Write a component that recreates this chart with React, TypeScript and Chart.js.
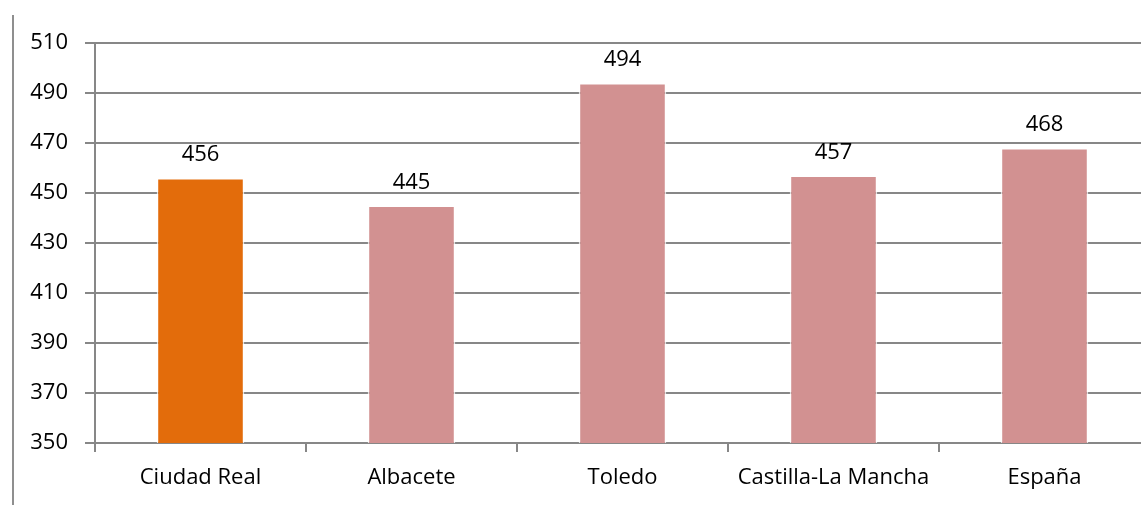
import React, { useEffect, useRef } from "react";
import { Chart, registerables } from "chart.js";

Chart.register(...registerables);

const categories = ["Ciudad Real", "Albacete", "Toledo", "Castilla-La Mancha", "España"];
const values = [456, 445, 494, 457, 468];
const barColors = ["#E36C0B", "#D29191", "#D29191", "#D29191", "#D29191"];
const yMin = 350;
const yMax = 510;
const yStep = 20;

const FONT = "'Open Sans', 'Liberation Sans', sans-serif";
const FONT_SIZE = 22;
const GRID = "#878787";

// Writes each bar's value centred above it
const valueLabels = {
  id: "valueLabels",
  afterDatasetsDraw(chart: any) {
    const ctx = chart.ctx;
    const meta = chart.getDatasetMeta(0);
    ctx.save();
    ctx.font = `${FONT_SIZE}px ${FONT}`;
    ctx.fillStyle = "#000";
    ctx.textAlign = "center";
    ctx.textBaseline = "alphabetic";
    meta.data.forEach((bar: any, i: number) => {
      ctx.fillText(String(values[i]), bar.x, bar.y - 17);
    });
    ctx.restore();
  },
};

// Thin frame line along the left edge
const leftFrame = {
  id: "leftFrame",
  beforeDraw(chart: any) {
    const ctx = chart.ctx;
    ctx.save();
    ctx.strokeStyle = "#8f8f8f";
    ctx.lineWidth = 2;
    ctx.beginPath();
    ctx.moveTo(13, 15);
    ctx.lineTo(13, chart.height);
    ctx.stroke();
    ctx.restore();
  },
};

export default function App() {
  const ref = useRef<HTMLCanvasElement | null>(null);

  useEffect(() => {
    if (!ref.current) return;
    const chart = new Chart(ref.current, {
      type: "bar",
      data: {
        labels: categories,
        datasets: [
          {
            data: values,
            backgroundColor: barColors,
            borderColor: "rgba(255,255,255,0.75)",
            borderWidth: 1.5,
            barPercentage: 0.415,
            categoryPercentage: 1,
          },
        ],
      },
      options: {
        responsive: false,
        animation: false,
        layout: { padding: { top: 43, right: 10, left: 0, bottom: 0 } },
        plugins: {
          legend: { display: false },
          tooltip: { enabled: false },
        },
        scales: {
          x: {
            afterFit(scale: any) {
              scale.height = 62;
            },
            grid: {
              drawOnChartArea: false,
              drawTicks: true,
              tickLength: 9,
              color: GRID,
              lineWidth: 2,
              offset: true,
            },
            border: { display: true, color: GRID, width: 2 },
            ticks: {
              color: "#000",
              padding: 13,
              font: { family: FONT, size: FONT_SIZE },
              maxRotation: 0,
              autoSkip: false,
            },
          },
          y: {
            min: yMin,
            max: yMax,
            afterFit(scale: any) {
              scale.width = 95;
            },
            grid: {
              color: GRID,
              lineWidth: 2,
              drawTicks: true,
              tickLength: 10,
            },
            border: { display: true, color: GRID, width: 2 },
            ticks: {
              stepSize: yStep,
              color: "#000",
              padding: 17,
              font: { family: FONT, size: FONT_SIZE },
            },
          },
        },
      },
      plugins: [leftFrame, valueLabels],
    });
    return () => chart.destroy();
  }, []);

  return (
    <div
      style={{
        position: "fixed",
        left: 0,
        top: 0,
        width: 1141,
        height: 505,
        overflow: "hidden",
        background: "#fff",
      }}
    >
      <canvas ref={ref} width={1160} height={505} style={{ display: "block" }} />
    </div>
  );
}
